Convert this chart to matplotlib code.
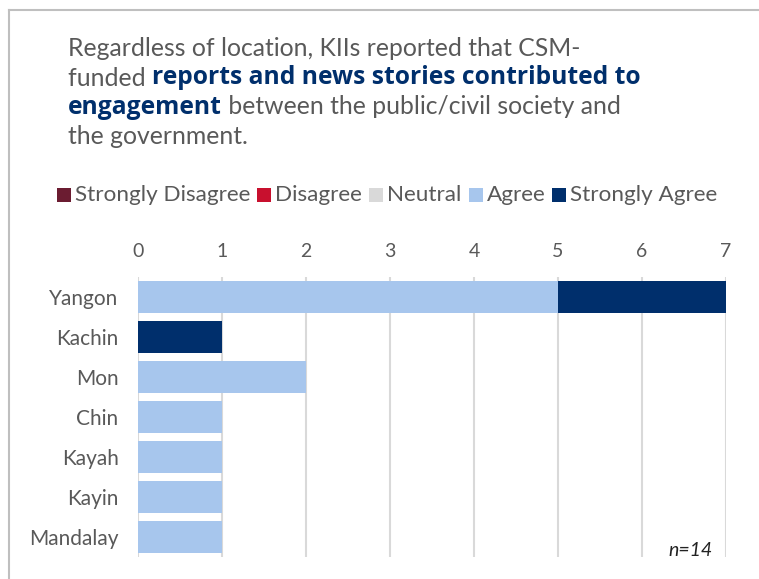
import matplotlib
matplotlib.use("Agg")
import matplotlib.pyplot as plt
from matplotlib.patches import Rectangle

categories = ["Yangon", "Kachin", "Mon", "Chin", "Kayah", "Kayin", "Mandalay"]
series_names = ["Strongly Disagree", "Disagree", "Neutral", "Agree", "Strongly Agree"]
strongly_disagree = [0, 0, 0, 0, 0, 0, 0]
disagree = [0, 0, 0, 0, 0, 0, 0]
neutral = [0, 0, 0, 0, 0, 0, 0]
agree = [5, 0, 2, 1, 1, 1, 1]
strongly_agree = [2, 1, 0, 0, 0, 0, 0]
colors = ["#6B1C31", "#C8102E", "#D9D9D9", "#A7C6ED", "#002F6C"]
xticks = [0, 1, 2, 3, 4, 5, 6, 7]

plt.rcParams['font.family'] = ['Lato', 'DejaVu Sans']
GRAY = "#595959"
BLUE = "#002F6C"

W, H = 759, 579
fig = plt.figure(figsize=(W / 100, H / 100), dpi=100)

# frame
fig.add_artist(plt.Line2D([9 / W, 9 / W], [0, 1 - 10 / H], transform=fig.transFigure, color="#BFBFBF", lw=1.5))
fig.add_artist(plt.Line2D([9 / W, 1], [1 - 10 / H, 1 - 10 / H], transform=fig.transFigure, color="#BFBFBF", lw=1.5))

# Title with mixed colors
lines = [
    [("Regardless of location, KIIs reported that CSM-", GRAY, "normal")],
    [("funded ", GRAY, "normal"), ("reports and news stories contributed to", BLUE, "bold")],
    [("engagement", BLUE, "bold"), (" between the public/civil society and", GRAY, "normal")],
    [("the government.", GRAY, "normal")],
]
renderer = fig.canvas.get_renderer()
x0 = 68
ys = [48, 78, 107, 137]
for line, yp in zip(lines, ys):
    x = x0
    for txt, col, wt in line:
        if wt == "bold":
            t = fig.text(x / W, 1 - yp / H, txt, color=col, fontsize=17.7, fontweight="bold",
                         family=["Open Sans", "DejaVu Sans"], va="center", ha="left")
        else:
            t = fig.text(x / W, 1 - yp / H, txt, color=col, fontsize=17.8,
                         va="center", ha="left")
        bb = t.get_window_extent(renderer=renderer)
        x += bb.width

# legend
x = 57
ly = 195
for name, col in zip(series_names, colors):
    fig.add_artist(Rectangle((x / W, 1 - (ly + 7) / H), 14 / W, 14 / H, transform=fig.transFigure,
                             facecolor=col, edgecolor="none"))
    t = fig.text((x + 18) / W, 1 - ly / H, name, color=GRAY, fontsize=16.2, va="center", ha="left")
    bb = t.get_window_extent(renderer=renderer)
    x += 18 + bb.width + 7

ax = fig.add_axes([138 / W, 1 - 557 / H, (726 - 138) / W, 280 / H])
ypos = list(range(len(categories)))
left = [0] * len(categories)
for vals, col, name in zip([strongly_disagree, disagree, neutral, agree, strongly_agree], colors, series_names):
    ax.barh(ypos, vals, left=left, color=col, height=0.78, label=name, zorder=3)
    left = [l + v for l, v in zip(left, vals)]

ax.set_xlim(0, 7)
ax.set_ylim(len(categories) - 0.5, -0.5)
ax.set_xticks(xticks)
ax.set_xticklabels([str(v) for v in xticks])
ax.xaxis.tick_top()
ax.tick_params(axis="x", length=0, pad=12, labelsize=14, labelcolor=GRAY)
ax.set_yticks(ypos)
ax.set_yticklabels(categories)
ax.tick_params(axis="y", length=0, pad=14, labelsize=15, labelcolor=GRAY)
ax.grid(axis="x", color="#D9D9D9", lw=1.5, zorder=0)
for s in ax.spines.values():
    s.set_visible(False)

fig.text(690 / W, 1 - 551 / H, "n=14", fontsize=14, style="italic", color="#222222", ha="center", va="center")

fig.savefig("out.png", dpi=100)
